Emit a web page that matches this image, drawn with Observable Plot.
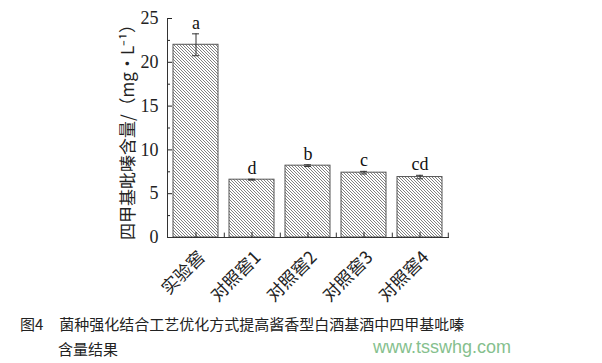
<!DOCTYPE html>
<html><head><meta charset="utf-8">
<script src="https://cdn.jsdelivr.net/npm/d3@7"></script>
<script src="https://cdn.jsdelivr.net/npm/@observablehq/plot@0.6"></script>
<style>
body{margin:0;background:#fff;}
#wrap{position:relative;width:602px;height:363px;overflow:hidden;background:#fff;}
#chart{position:absolute;left:0;top:0;}
.cap{position:absolute;font-family:"Noto Sans CJK SC",sans-serif;font-size:15px;color:#222;white-space:nowrap;}
.wm{position:absolute;font-family:"Liberation Sans",Arial,sans-serif;font-size:18px;color:#86bf8e;white-space:nowrap;}
</style></head>
<body>
<svg width="0" height="0" style="position:absolute">
<defs>
<pattern id="hatch" patternUnits="userSpaceOnUse" width="3" height="3">
<rect width="3" height="3" fill="#fff"/>
<path d="M-1,-1 L4,4 M-1,2 L1,4 M2,-1 L4,1" stroke="#737373" stroke-width="0.9"/>
</pattern>
</defs>
</svg>
<div id="wrap">
<div id="chart"></div>
<div class="cap" style="left:20px;top:313px;">图4<span style="display:inline-block;width:16px"></span>菌种强化结合工艺优化方式提高酱香型白酒基酒中四甲基吡嗪</div>
<div class="cap" style="left:58px;top:338px;">含量结果</div>
<div class="wm" style="left:373px;top:337px;">www.tsswhg.com</div>
</div>
<script>
const categories = ["实验窖", "对照窖1", "对照窖2", "对照窖3", "对照窖4"];
const means = [22.0, 6.6, 8.2, 7.4, 6.9];
const errors = [1.25, 0.05, 0.1, 0.15, 0.2];
const letters = ["a", "d", "b", "c", "cd"];
const yTicks = [0, 5, 10, 15, 20, 25];
const yMinorTicks = [2.5, 7.5, 12.5, 17.5, 22.5];

const data = categories.map((c, i) => ({cat: c, m: means[i], e: errors[i], l: letters[i]}));
const serif = "'Liberation Serif','Times New Roman',serif";
const cjk = "'Noto Sans CJK SC',sans-serif";

const chart = Plot.plot({
  width: 602,
  height: 310,
  marginLeft: 167,
  marginRight: 153,
  marginTop: 18,
  marginBottom: 73,
  style: {fontFamily: serif, color: "#222", background: "transparent"},
  x: {domain: categories, paddingInner: 0.19, paddingOuter: 0.095},
  y: {domain: [0, 25]},
  marks: [
    Plot.barY(data, {x: "cat", y: "m", fill: "url(#hatch)", stroke: "#555", strokeWidth: 1}),
    Plot.ruleX(data, {x: "cat", y1: d => d.m - d.e, y2: d => d.m + d.e, stroke: "#333", strokeWidth: 1}),
    Plot.tickY(data, {x: "cat", y: d => d.m + d.e, insetLeft: 19, insetRight: 19, stroke: "#333"}),
    Plot.tickY(data, {x: "cat", y: d => d.m - d.e, insetLeft: 19, insetRight: 19, stroke: "#333"}),
    Plot.text(data, {x: "cat", y: d => d.m + d.e, text: "l", dy: -11, fontSize: 18, fontFamily: serif, fill: "#111"}),
    Plot.axisY({ticks: yTicks, tickSize: -5, tickPadding: 14, fontSize: 18, fontFamily: serif, label: null}),
    Plot.axisY({ticks: [], text: null, tickSize: 0, fontSize: 17, fontFamily: cjk,
      label: "四甲基吡嗪含量/（mg•L⁻¹）", labelAnchor: "center", labelArrow: "none", labelOffset: 46}),
    Plot.axisY({ticks: yMinorTicks, tickSize: -3, text: null, label: null}),
    Plot.axisX({tickRotate: -45, tickSize: 0, tickPadding: 17, fontSize: 17.5, dx: 6,
      fontFamily: cjk, label: null}),
    Plot.axisX({tickSize: -5, text: null, label: null}),
    Plot.ruleX(categories, {x: d => d, y1: 0, y2: 0.5, dx: 28.3, stroke: "#333"}),
    Plot.ruleY([0], {stroke: "#333"}),
    Plot.frame({anchor: "left", stroke: "#333"})
  ]
});
document.getElementById("chart").appendChild(chart);
</script>
</body></html>
